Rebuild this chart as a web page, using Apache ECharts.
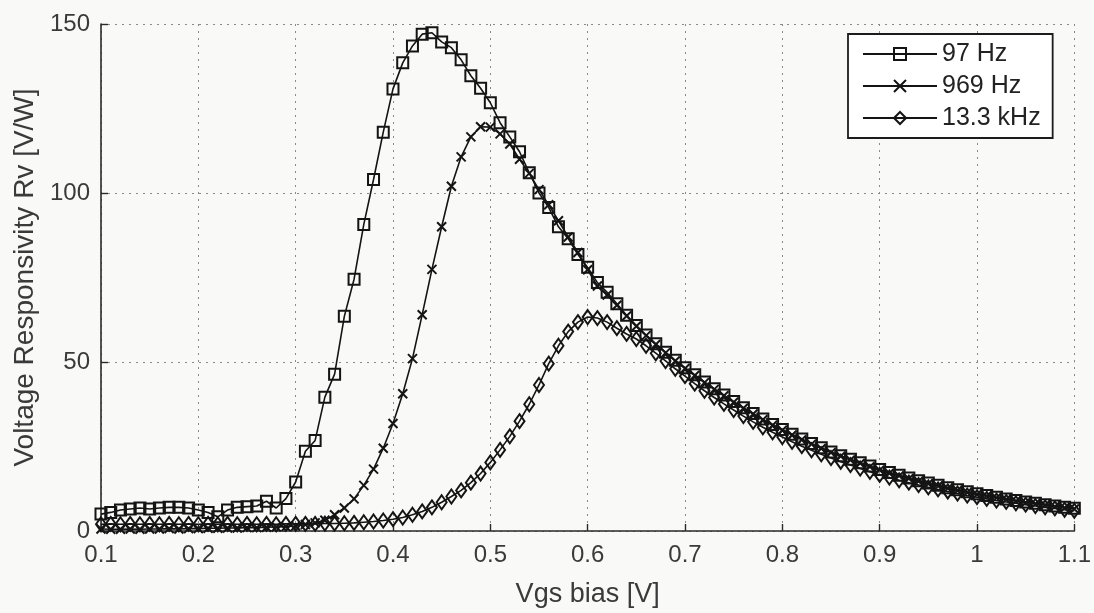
<!DOCTYPE html>
<html>
<head>
<meta charset="utf-8">
<script src="https://cdn.jsdelivr.net/npm/echarts@6/dist/echarts.min.js"></script>
<style>
  html, body { margin: 0; padding: 0; background: #f9f9f8; }
  #chart { width: 1094px; height: 613px; }
</style>
</head>
<body>
<div id="chart"></div>
<script>
// Gate bias sweep [V]
const bias = [
  0.10, 0.11, 0.12, 0.13, 0.14, 0.15, 0.16, 0.17, 0.18, 0.19,
  0.20, 0.21, 0.22, 0.23, 0.24, 0.25, 0.26, 0.27, 0.28, 0.29,
  0.30, 0.31, 0.32, 0.33, 0.34, 0.35, 0.36, 0.37, 0.38, 0.39,
  0.40, 0.41, 0.42, 0.43, 0.44, 0.45, 0.46, 0.47, 0.48, 0.49,
  0.50, 0.51, 0.52, 0.53, 0.54, 0.55, 0.56, 0.57, 0.58, 0.59,
  0.60, 0.61, 0.62, 0.63, 0.64, 0.65, 0.66, 0.67, 0.68, 0.69,
  0.70, 0.71, 0.72, 0.73, 0.74, 0.75, 0.76, 0.77, 0.78, 0.79,
  0.80, 0.81, 0.82, 0.83, 0.84, 0.85, 0.86, 0.87, 0.88, 0.89,
  0.90, 0.91, 0.92, 0.93, 0.94, 0.95, 0.96, 0.97, 0.98, 0.99,
  1.00, 1.01, 1.02, 1.03, 1.04, 1.05, 1.06, 1.07, 1.08, 1.09,
  1.10
];

// Voltage responsivity [V/W] at 97 Hz modulation
const rv97 = [
  5.0, 5.5, 6.2, 6.5, 6.8, 6.5, 6.8, 7.0, 7.0, 6.8,
  6.2, 5.5, 4.2, 6.2, 7.0, 7.2, 7.4, 8.8, 6.8, 9.6,
  14.5, 23.6, 26.8, 39.6, 46.4, 63.5, 74.5, 90.7, 104.0, 118.0,
  130.8, 138.5, 143.5, 147.0, 147.4, 144.7, 143.0, 139.4, 134.7, 131.0,
  126.7, 120.8, 116.6, 112.2, 106.0, 100.0, 95.7, 90.0, 86.5, 81.8,
  78.0, 73.5, 70.6, 67.2, 63.8, 60.8, 58.0, 55.4, 52.9, 50.5,
  48.3, 46.2, 44.1, 42.1, 40.2, 38.3, 36.5, 34.8, 33.1, 31.5,
  30.0, 28.6, 27.2, 25.9, 24.6, 23.4, 22.3, 21.2, 20.2, 19.2,
  18.2, 17.3, 16.5, 15.7, 14.9, 14.2, 13.5, 12.8, 12.2, 11.6,
  11.0, 10.5, 10.0, 9.5, 9.0, 8.6, 8.2, 7.8, 7.4, 7.0,
  6.7
];

// Voltage responsivity [V/W] at 969 Hz modulation
const rv969 = [
  0.6, 0.5, 0.5, 0.6, 0.5, 0.6, 0.6, 0.7, 0.6, 0.7,
  0.7, 0.8, 0.8, 0.9, 0.9, 1.0, 1.0, 1.1, 1.2, 1.3,
  1.5, 1.9, 2.4, 3.2, 4.8, 6.8, 9.5, 13.5, 18.3, 24.5,
  31.8, 40.6, 51.0, 64.0, 77.4, 90.0, 102.0, 110.7, 116.6, 119.6,
  119.5, 117.5, 114.5, 110.0, 105.8, 101.0, 96.5, 91.8, 87.0, 82.4,
  77.3, 72.5, 69.8, 66.8, 63.6, 60.6, 57.8, 55.2, 52.7, 50.3,
  48.1, 46.0, 43.9, 41.9, 40.0, 38.1, 36.3, 34.6, 32.9, 31.3,
  29.8, 28.4, 27.0, 25.7, 24.4, 23.2, 22.1, 21.0, 20.0, 19.0,
  18.0, 17.1, 16.3, 15.5, 14.7, 14.0, 13.3, 12.6, 12.0, 11.4,
  10.8, 10.3, 9.8, 9.3, 8.8, 8.4, 8.0, 7.6, 7.2, 6.8,
  6.5
];

// Voltage responsivity [V/W] at 13.3 kHz modulation
const rv13k = [
  2.0, 2.1, 2.0, 2.1, 2.0, 2.1, 2.0, 2.1, 2.0, 2.1,
  2.0, 2.1, 2.0, 2.1, 2.0, 2.1, 2.0, 2.1, 2.0, 2.1,
  2.1, 2.1, 2.1, 2.2, 2.2, 2.3, 2.4, 2.6, 2.8, 3.1,
  3.5, 4.0, 4.8, 5.8, 7.0, 8.5, 10.2, 12.0, 14.3, 17.0,
  20.3, 24.0, 28.0, 32.5, 37.5, 43.2, 49.5, 54.8, 59.0, 61.8,
  63.3, 63.0, 61.8, 60.0, 58.3, 56.8, 54.8, 52.6, 50.3, 48.0,
  45.8, 43.6, 41.5, 39.5, 37.6, 35.8, 34.0, 32.3, 30.7, 29.2,
  27.8, 26.4, 25.1, 23.9, 22.7, 21.6, 20.5, 19.5, 18.5, 17.5,
  16.6, 15.8, 15.0, 14.3, 13.6, 12.9, 12.3, 11.7, 11.1, 10.5,
  10.0, 9.5, 9.0, 8.6, 8.2, 7.8, 7.4, 7.0, 6.7, 6.3,
  6.0
];

const seriesNames = ['97 Hz', '969 Hz', '13.3 kHz'];
const xTickLabels = ['0.1', '0.2', '0.3', '0.4', '0.5', '0.6', '0.7', '0.8', '0.9', '1', '1.1'];
const yTickLabels = ['0', '50', '100', '150'];

const ink = '#141414';
const textInk = '#3a3a3a';
const font = 'Liberation Sans';

function pairs(ys) {
  return bias.map((x, i) => [x, ys[i]]);
}

function lineSeries(name, ys, symbol, size) {
  return {
    name: name,
    type: 'line',
    data: pairs(ys),
    symbol: symbol,
    symbolSize: size,
    showSymbol: true,
    showAllSymbol: true,
    animation: false,
    lineStyle: { color: ink, width: 1.6 },
    itemStyle: { color: 'rgba(0,0,0,0)', borderColor: ink, borderWidth: 2 },
    emphasis: { disabled: true },
    z: 3
  };
}

const chart = echarts.init(document.getElementById('chart'), null, { renderer: 'canvas' });

chart.setOption({
  backgroundColor: '#f9f9f8',
  animation: false,
  textStyle: { fontFamily: font },
  grid: { left: 101, right: 19, top: 24, bottom: 81, containLabel: false },
  xAxis: {
    type: 'value',
    min: 0.1,
    max: 1.1,
    interval: 0.1,
    name: 'Vgs bias [V]',
    nameLocation: 'middle',
    nameGap: 50,
    nameTextStyle: { fontFamily: font, fontSize: 27, color: textInk },
    axisLine: { show: true, lineStyle: { color: '#2a2a2a', width: 1.6 } },
    axisTick: { show: true, inside: true, length: 7, lineStyle: { color: '#2a2a2a', width: 1.4 } },
    axisLabel: {
      fontFamily: font, fontSize: 24, color: textInk, margin: 12,
      formatter: function (v) {
        const idx = Math.round((v - 0.1) / 0.1);
        return xTickLabels[idx] !== undefined ? xTickLabels[idx] : '';
      }
    },
    splitLine: { show: true, lineStyle: { color: '#8a8a8a', width: 1, type: [2, 5] } }
  },
  yAxis: {
    type: 'value',
    min: 0,
    max: 150,
    interval: 50,
    name: 'Voltage Responsivity Rv [V/W]',
    nameLocation: 'middle',
    nameGap: 57,
    nameTextStyle: { fontFamily: font, fontSize: 28, color: textInk },
    axisLine: { show: true, lineStyle: { color: '#2a2a2a', width: 1.6 } },
    axisTick: { show: true, inside: true, length: 7, lineStyle: { color: '#2a2a2a', width: 1.4 } },
    axisLabel: {
      fontFamily: font, fontSize: 24, color: textInk, margin: 11,
      formatter: function (v) {
        const idx = Math.round(v / 50);
        return yTickLabels[idx] !== undefined ? yTickLabels[idx] : '';
      }
    },
    splitLine: { show: true, lineStyle: { color: '#8a8a8a', width: 1, type: [2, 5] } }
  },
  legend: {
    orient: 'vertical',
    left: 848,
    top: 34,
    data: seriesNames,
    backgroundColor: '#ffffff',
    borderColor: '#1c1c1c',
    borderWidth: 1.8,
    borderRadius: 0,
    padding: [7, 12, 7, 14],
    itemWidth: 74,
    itemHeight: 15,
    itemGap: 6,
    selectedMode: false,
    textStyle: { fontFamily: font, fontSize: 25, color: '#222', lineHeight: 26 }
  },
  series: [
    lineSeries(seriesNames[0], rv97, 'rect', 11),
    lineSeries(seriesNames[1], rv969, 'path://M0,0L10,10M10,0L0,10', 9),
    lineSeries(seriesNames[2], rv13k, 'diamond', [10, 14])
  ]
});
</script>
</body>
</html>
